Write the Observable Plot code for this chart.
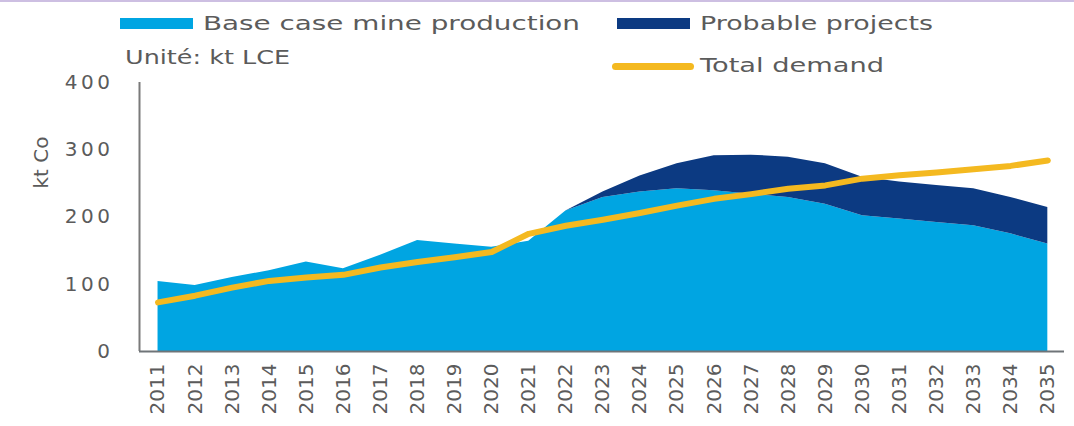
<!DOCTYPE html>
<html>
<head>
<meta charset="utf-8">
<script src="https://cdn.jsdelivr.net/npm/d3@7"></script>
<script src="https://cdn.jsdelivr.net/npm/@observablehq/plot@0.6"></script>
<style>
  html, body { margin: 0; padding: 0; background: #fff; }
  #wrap { width: 1074px; height: 426px; position: relative; overflow: hidden; border-top: 2px solid #cdbfe2; box-sizing: border-box; background: #fff; }
  #legend { position: relative; z-index: 2; width: 1074px; height: 58px; font-family: "DejaVu Sans", sans-serif; color: #5b5b5b; }
  .sw { position: absolute; }
  .lt { position: absolute; white-space: nowrap; display: inline-block; line-height: 20px; transform-origin: 0 50%; }
  #chart svg { display: block; overflow: visible; }
</style>
</head>
<body>
<div id="wrap">
  <div id="legend"></div>
  <div id="chart"></div>
</div>
<script>
// ---- data (kt) ----
const years = [2011, 2012, 2013, 2014, 2015, 2016, 2017, 2018, 2019, 2020, 2021, 2022, 2023,
               2024, 2025, 2026, 2027, 2028, 2029, 2030, 2031, 2032, 2033, 2034, 2035];
const baseCase = [104, 98, 110, 120, 133, 123, 143, 165, 160, 155, 164, 209, 229,
                  237, 242, 239, 234, 229, 219, 202, 197, 192, 187, 175, 160];
const probable = [0, 0, 0, 0, 0, 0, 0, 0, 0, 0, 0, 0, 8,
                  24, 37, 52, 58, 60, 60, 57, 55, 55, 55, 54, 54];
const demand = [73, 83, 95, 105, 110, 114, 125, 133, 140, 148, 175, 187, 196,
                206, 217, 227, 234, 242, 247, 257, 262, 266, 271, 276, 284];
const yTicks = [0, 100, 200, 300, 400];
const seriesNames = ["Base case mine production", "Probable projects"];
const demandName = "Total demand";
const unitLabel = "Unité: kt LCE";
const yLabel = "kt Co";

const colLight = "#00a5e2";
const colDark = "#0c3a82";
const colYellow = "#f4b920";

// long table for stacking
const stacked = [];
years.forEach((y, i) => {
  stacked.push({year: y, series: seriesNames[0], value: baseCase[i]});
  stacked.push({year: y, series: seriesNames[1], value: probable[i]});
});
const demandRows = years.map((y, i) => ({year: y, value: demand[i]}));

// ---- legend (HTML above the svg) ----
const legend = document.getElementById("legend");
function addSwatch(left, top, w, h, color, radius) {
  const d = document.createElement("div");
  d.className = "sw";
  Object.assign(d.style, {left: left + "px", top: top + "px", width: w + "px", height: h + "px", background: color, borderRadius: (radius || 0) + "px"});
  legend.appendChild(d);
}
function addText(txt, left, top, size, targetW) {
  const s = document.createElement("span");
  s.className = "lt";
  s.textContent = txt;
  Object.assign(s.style, {left: left + "px", top: top + "px", fontSize: size + "px"});
  legend.appendChild(s);
  const w = s.getBoundingClientRect().width;
  if (w > 0) s.style.transform = `scaleX(${targetW / w})`;
}
addSwatch(120, 16, 73, 11, colLight);
addText(seriesNames[0], 203, 11, 20, 377);
addSwatch(617, 16, 73, 11, colDark);
addText(seriesNames[1], 700, 11, 20, 233);
addText(unitLabel, 125, 45, 19, 165);
addSwatch(612, 61, 82, 7, colYellow, 4);
addText(demandName, 700, 53, 20, 184);

// ---- chart ----
const chart = Plot.plot({
  width: 1074,
  height: 366,
  marginLeft: 139,
  marginRight: 10,
  marginTop: 22,
  marginBottom: 75,
  style: {fontFamily: "DejaVu Sans, sans-serif", fontSize: "20px", color: "#5b5b5b", background: "transparent"},
  x: {domain: [2010.5, 2035.45], axis: null},
  y: {domain: [0, 400], axis: null},
  color: {domain: seriesNames, range: [colLight, colDark]},
  marks: [
    Plot.areaY(stacked, {x: "year", y: "value", fill: "series", order: seriesNames}),
    Plot.lineY(demandRows, {x: "year", y: "value", stroke: colYellow, strokeWidth: 6, strokeLinecap: "round", strokeLinejoin: "round"}),
    Plot.ruleX([2010.5], {y1: 0, y2: 400, stroke: "#7a7a7a", strokeWidth: 2}),
    Plot.ruleY([0], {stroke: "#6f7478", strokeWidth: 2}),
    Plot.axisY({ticks: yTicks, tickSize: 0, tickPadding: 26, fontSize: 20, label: null}),
    Plot.axisX({ticks: years, tickSize: 0, tickPadding: 12, tickRotate: -90, fontSize: 20, tickFormat: d => String(d), label: null}),
    Plot.text([yLabel], {frameAnchor: "top-left", dx: -106, dy: 80, rotate: -90, fontSize: 20, textAnchor: "middle", fill: "#5b5b5b"})
  ]
});
document.getElementById("chart").appendChild(chart);
chart.querySelectorAll('g[aria-label="y-axis tick label"] text').forEach(t => t.style.letterSpacing = "3.5px");
</script>
</body>
</html>
